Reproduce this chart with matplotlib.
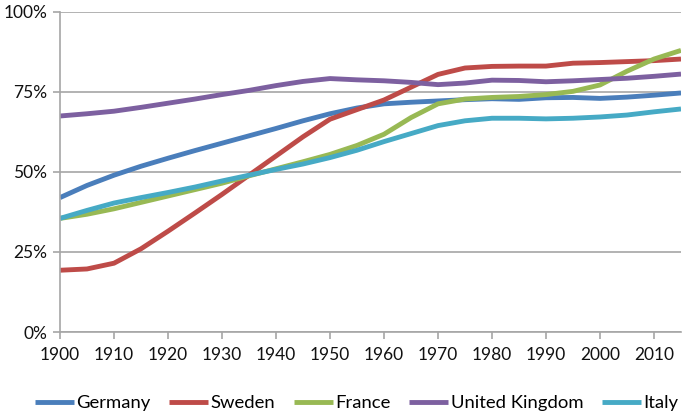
import matplotlib
matplotlib.use('Agg')
import matplotlib.pyplot as plt
from matplotlib.ticker import FuncFormatter

plt.rcParams['font.family'] = ['Lato', 'DejaVu Sans']

# Data (share in %)
years = [1900, 1905, 1910, 1915, 1920, 1925, 1930, 1935, 1940, 1945, 1950, 1955,
         1960, 1965, 1970, 1975, 1980, 1985, 1990, 1995, 2000, 2005, 2010, 2015]
germany = [42, 45.8, 49, 51.8, 54.3, 56.7, 59, 61.3, 63.6, 66, 68.2, 70,
           71.3, 71.8, 72.2, 72.6, 72.9, 72.7, 73.2, 73.3, 73, 73.4, 74, 74.7]
sweden = [19.3, 19.7, 21.5, 26, 31.5, 37.2, 43, 49, 55, 61, 66.5, 69.5,
          72.5, 76.5, 80.5, 82.5, 83, 83.1, 83.1, 84, 84.2, 84.5, 84.8, 85.3]
france = [35.5, 36.8, 38.5, 40.5, 42.5, 44.5, 46.5, 48.8, 51, 53.2, 55.5, 58.3,
          61.8, 67, 71.3, 72.8, 73.3, 73.6, 74.2, 75.2, 77.2, 81.5, 85.3, 88]
uk = [67.5, 68.2, 69, 70.2, 71.5, 72.8, 74.2, 75.5, 77, 78.3, 79.2, 78.8,
      78.5, 78, 77.3, 77.8, 78.7, 78.6, 78.2, 78.5, 78.9, 79.3, 79.9, 80.6]
italy = [35.5, 38, 40.3, 42, 43.6, 45.3, 47.2, 49, 50.8, 52.5, 54.5, 56.8,
         59.5, 62, 64.5, 66, 66.8, 66.8, 66.6, 66.8, 67.2, 67.8, 68.8, 69.7]

series = [
    ('Germany', germany, '#4a7ebb'),
    ('Sweden', sweden, '#be4b48'),
    ('France', france, '#98b954'),
    ('United Kingdom', uk, '#7d60a0'),
    ('Italy', italy, '#46aac5'),
]

fig = plt.figure(figsize=(6.85, 4.15), dpi=100)
ax = fig.add_axes([60 / 685, 83 / 415, 621 / 685, 320 / 415])

for name, vals, color in series:
    ax.plot(years, vals, color=color, lw=3.5, label=name, solid_capstyle='butt')

ax.set_xlim(1900, 2015)
ax.set_ylim(0, 100)
ax.set_xticks(range(1900, 2011, 10))
ax.set_yticks([0, 25, 50, 75, 100])
ax.yaxis.set_major_formatter(FuncFormatter(lambda v, p: f'{int(v)}%'))

grid_c = '#a6a6a6'
ax.grid(axis='y', color=grid_c, lw=1.2)
ax.set_axisbelow(True)
for s in ['top', 'right']:
    ax.spines[s].set_visible(False)
for s in ['left', 'bottom']:
    ax.spines[s].set_color(grid_c)
    ax.spines[s].set_linewidth(1.2)
ax.tick_params(axis='both', colors=grid_c, length=5, width=1.2, labelsize=12.5,
               labelcolor='#111111')
ax.tick_params(axis='y', pad=4)
ax.tick_params(axis='x', pad=6)

ax.legend(loc='upper center', bbox_to_anchor=(0.478, -0.145), ncol=5, frameon=False,
          fontsize=13.3, handlelength=2.1, handletextpad=0.15, columnspacing=1.0)

fig.savefig('out.png', dpi=100)
